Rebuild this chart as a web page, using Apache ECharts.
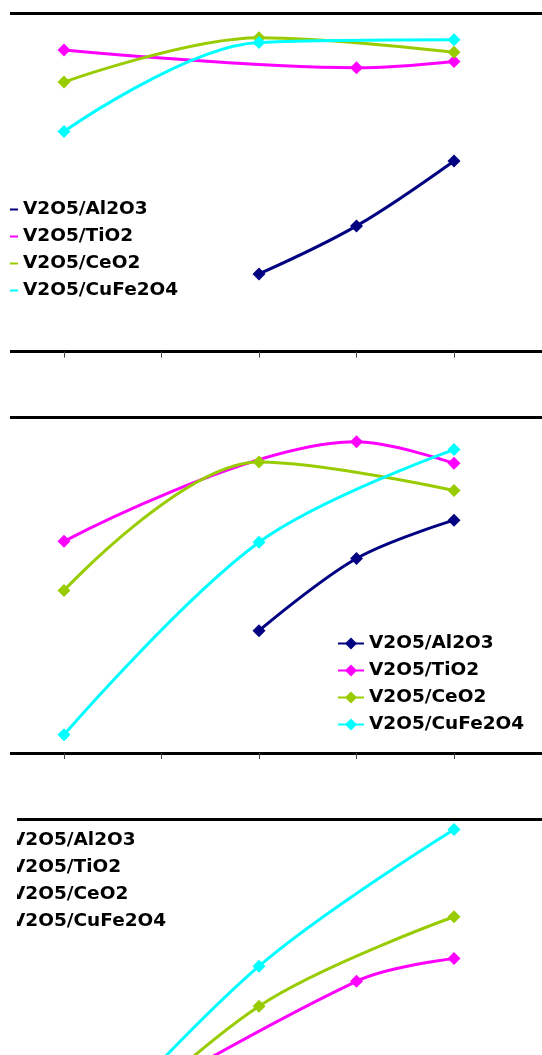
<!DOCTYPE html>
<html>
<head>
<meta charset="utf-8">
<script src="https://cdn.jsdelivr.net/npm/echarts@6/dist/echarts.min.js"></script>
<style>
  html, body { margin: 0; padding: 0; background: #fff; }
  #chart { width: 542px; height: 1055px; }
</style>
</head>
<body>
<div id="chart"></div>
<script>
// x positions of the samples (same for the three panels)
const xValues = [1, 2, 3, 4, 5];
const seriesNames = ['V2O5/Al2O3', 'V2O5/TiO2', 'V2O5/CeO2', 'V2O5/CuFe2O4'];
const seriesColors = ['#000080', '#FF00FF', '#99CC00', '#00FFFF'];

// panel 1 (top)
const p1Al2O3   = [null, null, 22.9, 37.1, 56.3];
const p1TiO2    = [89.1, null, null, 83.8, 85.7];
const p1CeO2    = [79.6, null, 92.7, null, 88.4];
const p1CuFe2O4 = [65.0, null, 91.3, null, 92.1];

// panel 2 (middle)
const p2Al2O3   = [null, null, 36.4, 57.9, 69.3];
const p2TiO2    = [63.0, null, null, 92.6, 86.2];
const p2CeO2    = [48.4, null, 86.6, null, 78.1];
const p2CuFe2O4 = [5.4, null, 62.7, null, 90.3];

// panel 3 (bottom, cut off by the picture edge; first points estimated)
const p3Al2O3   = [null, null, null, null, null];
const p3TiO2    = [4.0, null, null, 51.7, 58.5];
const p3CeO2    = [-6.0, null, 44.3, null, 70.9];
const p3CuFe2O4 = [-3.0, null, 56.2, null, 96.9];

const panels = [
  { top: 13, height: 338.5, data: [p1Al2O3, p1TiO2, p1CeO2, p1CuFe2O4], legend: { left: -9, top: 196 } },
  { top: 417, height: 336, data: [p2Al2O3, p2TiO2, p2CeO2, p2CuFe2O4], legend: { left: 337, top: 630 } },
  { top: 819, height: 336, data: [p3Al2O3, p3TiO2, p3CeO2, p3CuFe2O4], legend: { left: -21, top: 827 } }
];

// pixel mapping of the x axis: first tick at 64px, 97.5px per step
const tick0 = 64, step = 97.5, gridLeft = -40, gridWidth = 640;
const xMin = 1 - (tick0 - gridLeft) / step;
const xMax = xMin + gridWidth / step;

const toPairs = (vals) => xValues.map((x, i) => [x, vals[i]]).filter(p => p[1] != null);

const grid = [], xAxis = [], yAxis = [], series = [], legend = [];
panels.forEach((p, pi) => {
  grid.push({ left: gridLeft, width: gridWidth, top: p.top, height: p.height, outerBoundsMode: 'none', containLabel: false });
  // bottom axis with ticks
  xAxis.push({
    gridIndex: pi, type: 'value', min: xMin, max: xMax, position: 'bottom',
    axisLine: { show: true, lineStyle: { color: '#000', width: 3 } },
    axisTick: { show: true, customValues: xValues, length: 6, inside: false, lineStyle: { color: '#444', width: 1 } },
    axisLabel: { show: false }, splitLine: { show: false }
  });
  // top border line
  xAxis.push({
    gridIndex: pi, type: 'value', min: xMin, max: xMax, position: 'top',
    axisLine: { show: true, lineStyle: { color: '#000', width: 3 } },
    axisTick: { show: false }, axisLabel: { show: false }, splitLine: { show: false }
  });
  yAxis.push({ gridIndex: pi, type: 'value', min: 0, max: 100, show: false, splitLine: { show: false } });

  p.data.forEach((vals, si) => {
    series.push({
      name: seriesNames[si], type: 'line',
      xAxisIndex: pi * 2, yAxisIndex: pi,
      data: toPairs(vals),
      smooth: 0.35, clip: false,
      symbol: 'diamond', symbolSize: 13, showSymbol: true,
      itemStyle: { color: seriesColors[si] },
      lineStyle: { color: seriesColors[si], width: 3 },
      emphasis: { disabled: true }
    });
  });

  legend.push({
    orient: 'vertical', left: p.legend.left, top: p.legend.top, padding: 0,
    itemWidth: 26, itemHeight: 15, itemGap: 0,
    data: seriesNames, selectedMode: false,
    textStyle: { color: '#000', fontFamily: 'DejaVu Sans', fontWeight: 'bold', fontSize: 18.5, lineHeight: 27 }
  });
});

const chart = echarts.init(document.getElementById('chart'), null, { renderer: 'canvas' });
chart.setOption({
  animation: false,
  backgroundColor: '#fff',
  grid, xAxis, yAxis, series, legend,
  // the source picture has a blank strip on its left edge
  graphic: [
    { type: 'rect', z: 100, shape: { x: 0, y: 0, width: 10, height: 790 }, style: { fill: '#fff' } },
    { type: 'rect', z: 100, shape: { x: 0, y: 790, width: 17, height: 265 }, style: { fill: '#fff' } }
  ]
});
</script>
</body>
</html>
